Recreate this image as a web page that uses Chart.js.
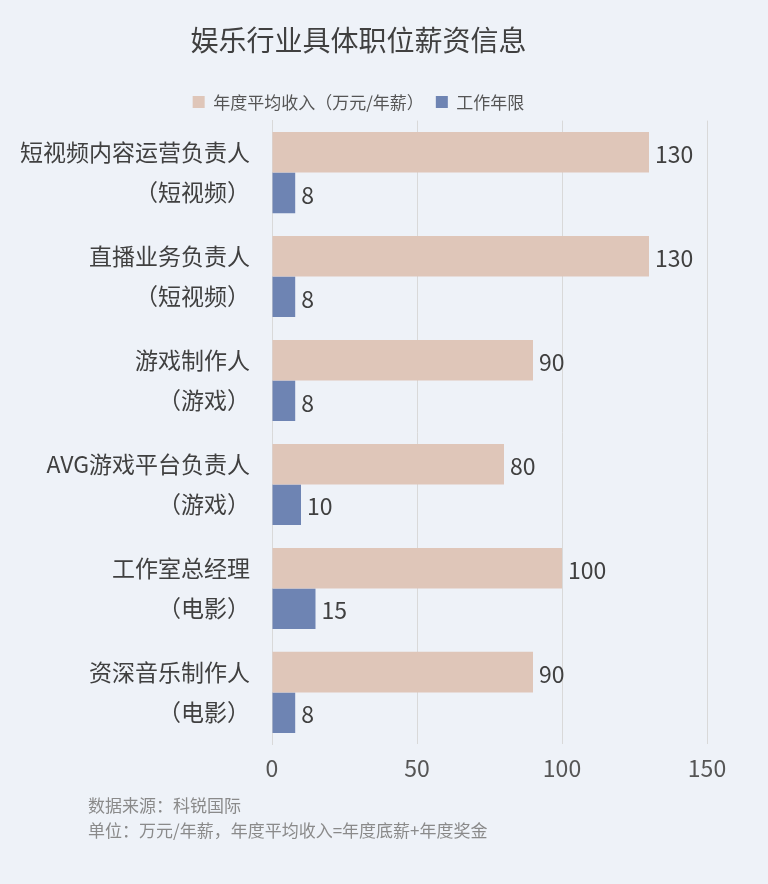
<!DOCTYPE html>
<html><head><meta charset="utf-8">
<script src="https://cdn.jsdelivr.net/npm/chart.js@4"></script>
<style>html,body{margin:0;padding:0;background:#eef2f8;}canvas{display:block}</style>
</head><body>
<div style="width:768px;height:884px"><canvas id="c"></canvas></div>
<script>
const categories=[["短视频内容运营负责人","（短视频）"],["直播业务负责人","（短视频）"],["游戏制作人","（游戏）"],["AVG游戏平台负责人","（游戏）"],["工作室总经理","（电影）"],["资深音乐制作人","（电影）"]];
const income=[130,130,90,80,100,90];
const years=[8,8,8,10,15,8];
const xTicks=[0,50,100,150];
const F='"Noto Sans CJK SC","Noto Sans",sans-serif';
const footer={id:'footer',afterDraw(ch){const c=ch.ctx;c.save();c.font='17px '+F;c.fillStyle='#8a8a8a';c.textBaseline='middle';c.fillText('数据来源：科锐国际',88,806);c.fillText('单位：万元/年薪，年度平均收入=年度底薪+年度奖金',88,831);c.restore();}};
const labels={id:'lbl',afterDatasetsDraw(ch){const c=ch.ctx;c.save();c.font='23px '+F;c.fillStyle='#404040';c.textBaseline='middle';ch.data.datasets.forEach((d,i)=>{ch.getDatasetMeta(i).data.forEach((b,j)=>{c.fillText(d.data[j],b.x+6,b.y+2);});});c.restore();}};
new Chart(document.getElementById('c'),{type:'bar',
data:{labels:categories,datasets:[
{label:'年度平均收入（万元/年薪）',data:income,backgroundColor:'#dfc6b9'},
{label:'工作年限',data:years,backgroundColor:'#6e84b3'}]},
options:{indexAxis:'y',responsive:true,maintainAspectRatio:false,animation:false,
categoryPercentage:0.78,barPercentage:1,
layout:{padding:{left:10,right:61,bottom:92,top:0}},
plugins:{title:{display:true,text:'娱乐行业具体职位薪资信息',font:{family:F,size:28,weight:'normal'},color:'#404040',padding:{top:24,bottom:24}},
legend:{labels:{font:{family:F,size:17},color:'#555',boxWidth:12,boxHeight:12,padding:12},padding:40},tooltip:{enabled:false}},
scales:{x:{min:0,max:150,afterBuildTicks:a=>{a.ticks=xTicks.map(v=>({value:v}))},ticks:{font:{family:F,size:23},color:'#555',padding:10},grid:{color:'#d9d9d9',drawTicks:false},border:{display:false}},
y:{afterFit:s=>{s.width=262},ticks:{font:{family:F,size:23,lineHeight:1.75},color:'#404040',padding:14},grid:{display:false},border:{color:'#d9d9d9'}}}},
plugins:[labels,footer]});
</script></body></html>
